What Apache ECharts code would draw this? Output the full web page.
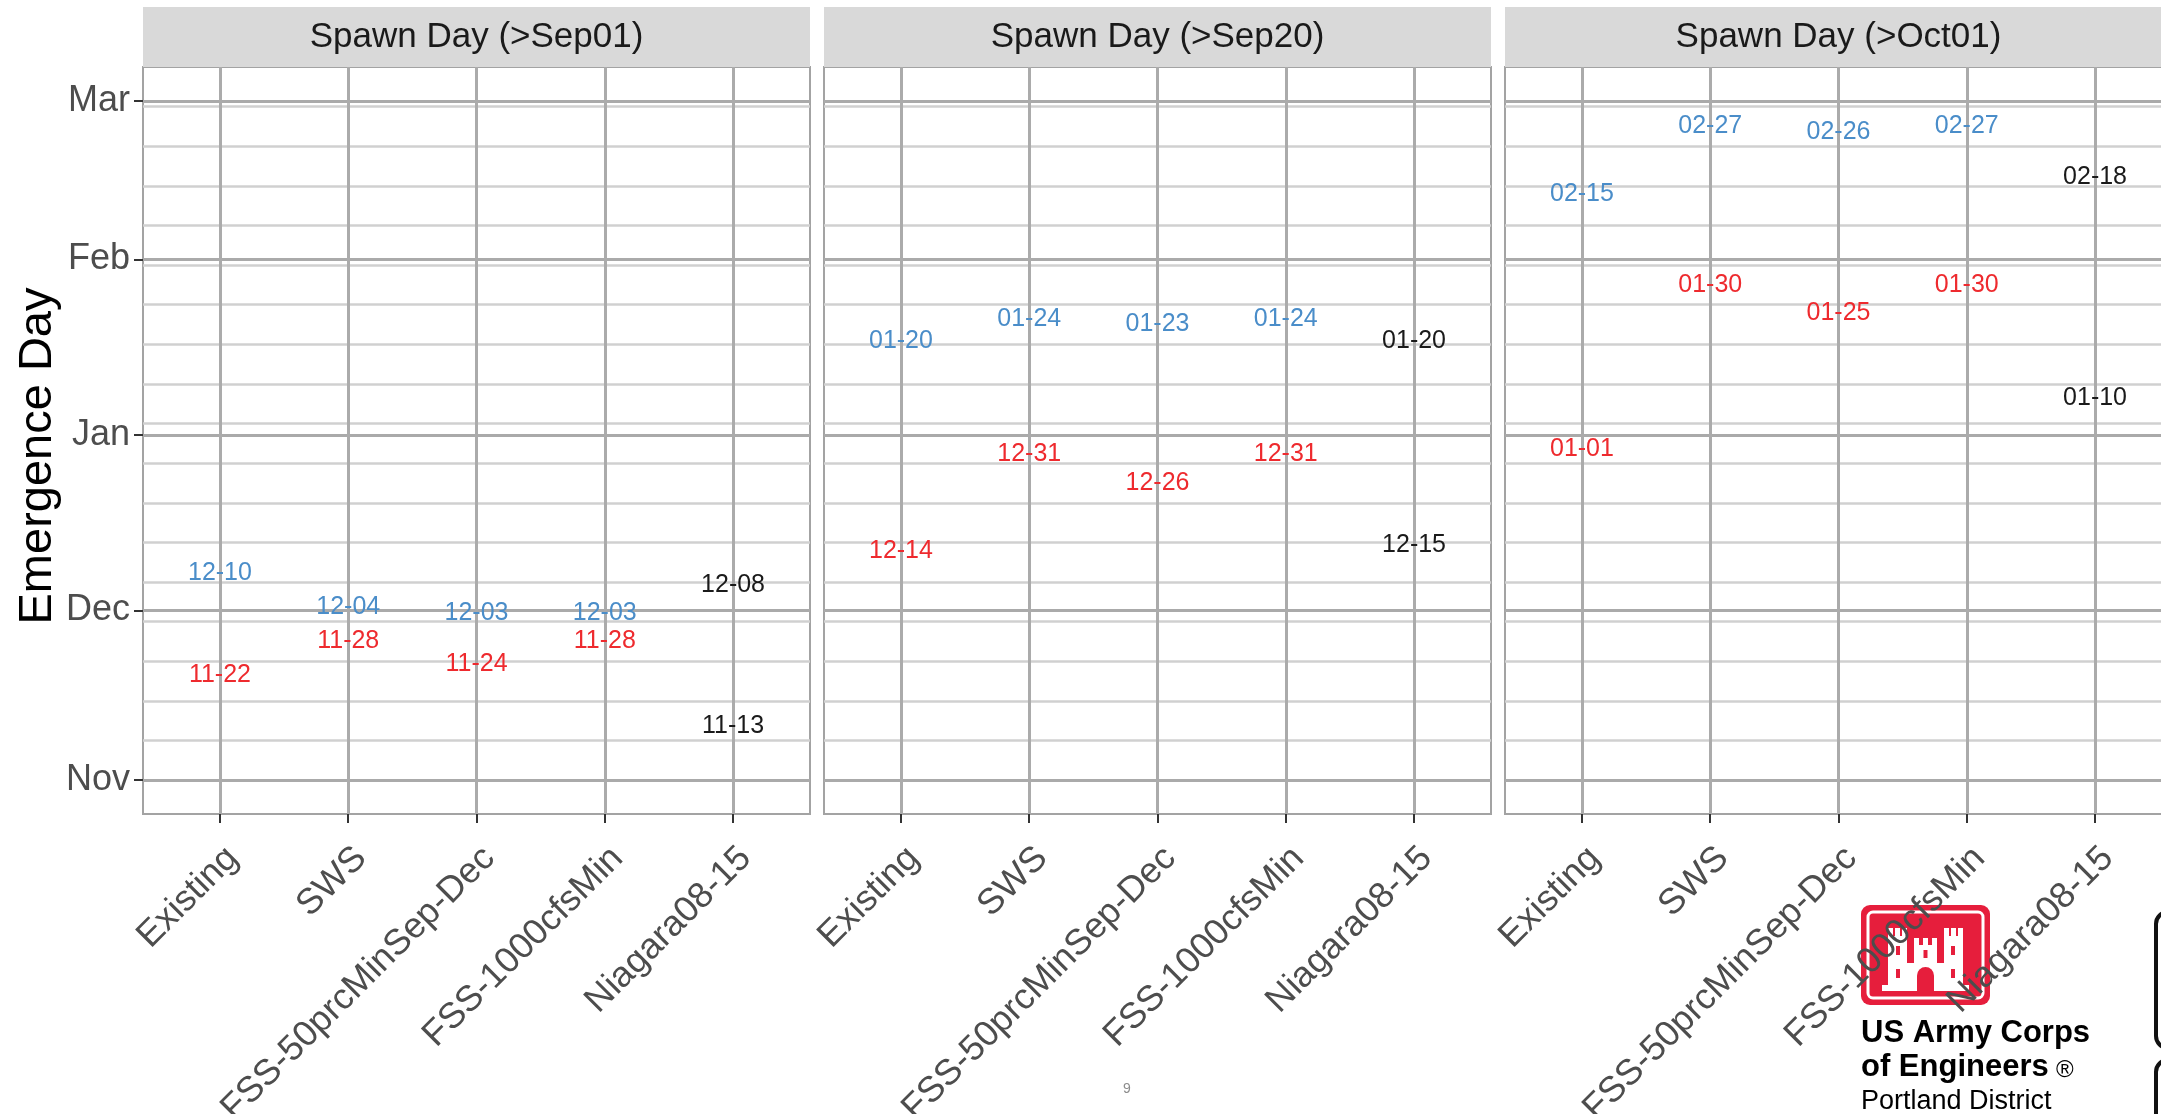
<!DOCTYPE html>
<html>
<head>
<meta charset="utf-8">
<title>Emergence Day by Spawn Day</title>
<script src="https://cdn.jsdelivr.net/npm/echarts@6/dist/echarts.min.js"></script>
<style>
  html, body { margin: 0; padding: 0; background: #ffffff; }
  #chart { width: 2161px; height: 1114px; }
</style>
</head>
<body>
<div id="chart"></div>
<script>
// Flow scenarios on the x axis of every facet
const scenarios = ['Existing', 'SWS', 'FSS-50prcMinSep-Dec', 'FSS-1000cfsMin', 'Niagara08-15'];
// Facet headings
const spawnPanels = ['Spawn Day (>Sep01)', 'Spawn Day (>Sep20)', 'Spawn Day (>Oct01)'];
// Month breaks of the emergence axis
const monthTicks = ['11-01', '12-01', '01-01', '02-01', '03-01'];
const monthNames = ['Nov', 'Dec', 'Jan', 'Feb', 'Mar'];

// Emergence dates (MM-DD): later and earlier estimate per scenario
const lateSep01  = ['12-10', '12-04', '12-03', '12-03', '12-08'];
const earlySep01 = ['11-22', '11-28', '11-24', '11-28', '11-13'];
const lateSep20  = ['01-20', '01-24', '01-23', '01-24', '01-20'];
const earlySep20 = ['12-14', '12-31', '12-26', '12-31', '12-15'];
const lateOct01  = ['02-15', '02-27', '02-26', '02-27', '02-18'];
const earlyOct01 = ['01-01', '01-30', '01-25', '01-30', '01-10'];

const panelLate  = [lateSep01, lateSep20, lateOct01];
const panelEarly = [earlySep01, earlySep20, earlyOct01];

// Days counted from 1 November of the emergence season
const DAY_MS = 86400000;
const seasonStart = Date.UTC(2018, 10, 1);
function dayOf(md) {
  const parts = md.split('-').map(Number);
  const year = parts[0] >= 9 ? 2018 : 2019;
  return (Date.UTC(year, parts[0] - 1, parts[1]) - seasonStart) / DAY_MS;
}

const FONT = '"Liberation Sans", Arial, Helvetica, sans-serif';
const COLOR_LATE = '#4a8dc9';
const COLOR_EARLY = '#ee2a2e';
const COLOR_OBS = '#1a1a1a';

const majorDays = monthTicks.map(dayOf);
const yMin = majorDays[0] - 6;
const yMax = majorDays[majorDays.length - 1] + 6;
const minorDays = [];
for (let d = majorDays[0] + 7; d < yMax; d += 7) minorDays.push(d);
const catIdx = scenarios.map((_, i) => i);

// facet geometry
const PANEL_LEFT = 143, PANEL_STEP = 681, PANEL_W = 667;
const PANEL_TOP = 67, PANEL_H = 747;
const STRIP_TOP = 7, STRIP_H = 60;

const grids = [], xAxes = [], yAxes = [], series = [], graphics = [];

spawnPanels.forEach((title, p) => {
  const left = PANEL_LEFT + p * PANEL_STEP;
  grids.push({
    left: left, top: PANEL_TOP, width: PANEL_W, height: PANEL_H,
    containLabel: false, outerBoundsMode: 'none',
    show: true, backgroundColor: '#ffffff', borderColor: '#a3a3a3', borderWidth: 2
  });
  xAxes.push({
    type: 'value', gridIndex: p, min: -0.6, max: scenarios.length - 0.4,
    axisLine: { show: false, onZero: false },
    splitLine: { show: false },
    axisTick: { show: true, length: 9, customValues: catIdx, lineStyle: { color: '#333333', width: 2 } },
    axisLabel: {
      show: true, customValues: catIdx, rotate: 45, margin: 26,
      align: 'right', verticalAlign: 'top', hideOverlap: false,
      fontFamily: FONT, fontSize: 36, color: '#4d4d4d',
      formatter: v => scenarios[Math.round(v)]
    }
  });
  yAxes.push({
    type: 'value', gridIndex: p, min: yMin, max: yMax,
    axisLine: { show: false, onZero: false },
    splitLine: { show: false },
    axisTick: { show: p === 0, length: 9, customValues: majorDays, lineStyle: { color: '#333333', width: 2 } },
    axisLabel: {
      show: p === 0, customValues: majorDays, margin: 13,
      fontFamily: FONT, fontSize: 36, color: '#4d4d4d',
      formatter: v => monthNames[majorDays.indexOf(Math.round(v))] || ''
    }
  });

  // panel grid: weekly minor lines, monthly major lines, one line per scenario
  const gridLines = []
    .concat(minorDays.map(v => ({ yAxis: v, lineStyle: { color: '#d0d0d0', width: 2.5, type: 'solid' } })))
    .concat(majorDays.map(v => ({ yAxis: v, lineStyle: { color: '#aaaaaa', width: 3, type: 'solid' } })))
    .concat(catIdx.map(v => ({ xAxis: v, lineStyle: { color: '#ababab', width: 3, type: 'solid' } })));

  const makeData = (dates, baseColor) => dates.map((md, i) => {
    const c = i === scenarios.length - 1 ? COLOR_OBS : baseColor;
    return { value: [i, dayOf(md)], text: md, label: { color: c } };
  });

  const labelStyle = {
    show: true, position: 'bottom', distance: 1, opacity: 1,
    fontFamily: FONT, fontSize: 25,
    formatter: prm => prm.data.text
  };

  series.push({
    name: 'later', type: 'scatter', xAxisIndex: p, yAxisIndex: p,
    symbol: 'circle', symbolSize: 1, itemStyle: { color: 'rgba(0,0,0,0)' },
    label: labelStyle, silent: true, z: 3,
    data: makeData(panelLate[p], COLOR_LATE),
    markLine: {
      silent: true, symbol: ['none', 'none'], label: { show: false },
      animation: false, z: 1, data: gridLines
    }
  });
  series.push({
    name: 'earlier', type: 'scatter', xAxisIndex: p, yAxisIndex: p,
    symbol: 'circle', symbolSize: 1, itemStyle: { color: 'rgba(0,0,0,0)' },
    label: labelStyle, silent: true, z: 3,
    data: makeData(panelEarly[p], COLOR_EARLY)
  });

  // facet strip
  graphics.push({
    type: 'rect', left: left, top: STRIP_TOP, z: 1,
    shape: { width: PANEL_W, height: STRIP_H },
    style: { fill: '#d9d9d9' }
  });
  graphics.push({
    type: 'text', z: 2,
    x: left + PANEL_W / 2, y: STRIP_TOP + STRIP_H / 2,
    style: { text: title, fontFamily: FONT, fontSize: 35, fill: '#1a1a1a', align: 'center', verticalAlign: 'middle' }
  });
});

// y axis title
graphics.push({
  type: 'text', x: 38, y: 456, rotation: Math.PI / 2, z: 2,
  style: { text: 'Emergence Day', fontFamily: FONT, fontSize: 47, fill: '#000000', align: 'center', verticalAlign: 'middle' }
});

// page number
graphics.push({
  type: 'text', x: 1127, y: 1089, z: 1,
  style: { text: '9', fontFamily: FONT, fontSize: 14, fill: '#8c8c8c', align: 'center', verticalAlign: 'middle' }
});

// district logo: red castle badge and wordmark
graphics.push({
  type: 'group', x: 1861, y: 905, z: -1,
  children: [
    { type: 'rect', shape: { x: 0, y: 0, width: 129, height: 100, r: 9 }, style: { fill: '#e61e3c' } },
    { type: 'rect', shape: { x: 7, y: 7, width: 115, height: 86, r: 5 }, style: { fill: 'none', stroke: '#ffffff', lineWidth: 3 } },
    // outer towers
    { type: 'rect', shape: { x: 27, y: 31, width: 19, height: 53 }, style: { fill: '#ffffff' } },
    { type: 'rect', shape: { x: 83, y: 31, width: 19, height: 53 }, style: { fill: '#ffffff' } },
    { type: 'rect', shape: { x: 27, y: 23, width: 5, height: 9 }, style: { fill: '#ffffff' } },
    { type: 'rect', shape: { x: 34, y: 23, width: 5, height: 9 }, style: { fill: '#ffffff' } },
    { type: 'rect', shape: { x: 41, y: 23, width: 5, height: 9 }, style: { fill: '#ffffff' } },
    { type: 'rect', shape: { x: 83, y: 23, width: 5, height: 9 }, style: { fill: '#ffffff' } },
    { type: 'rect', shape: { x: 90, y: 23, width: 5, height: 9 }, style: { fill: '#ffffff' } },
    { type: 'rect', shape: { x: 97, y: 23, width: 5, height: 9 }, style: { fill: '#ffffff' } },
    // centre tower
    { type: 'rect', shape: { x: 53, y: 40, width: 23, height: 44 }, style: { fill: '#ffffff' } },
    { type: 'rect', shape: { x: 53, y: 33, width: 5, height: 8 }, style: { fill: '#ffffff' } },
    { type: 'rect', shape: { x: 62, y: 33, width: 5, height: 8 }, style: { fill: '#ffffff' } },
    { type: 'rect', shape: { x: 71, y: 33, width: 5, height: 8 }, style: { fill: '#ffffff' } },
    // curtain wall and plinth
    { type: 'rect', shape: { x: 27, y: 58, width: 75, height: 26 }, style: { fill: '#ffffff' } },
    { type: 'rect', shape: { x: 21, y: 80, width: 87, height: 6 }, style: { fill: '#ffffff' } },
    // windows and gate
    { type: 'rect', shape: { x: 35, y: 41, width: 4, height: 9 }, style: { fill: '#e61e3c' } },
    { type: 'rect', shape: { x: 90, y: 41, width: 4, height: 9 }, style: { fill: '#e61e3c' } },
    { type: 'rect', shape: { x: 62.5, y: 45, width: 4, height: 8 }, style: { fill: '#e61e3c' } },
    { type: 'rect', shape: { x: 35, y: 64, width: 4, height: 9 }, style: { fill: '#e61e3c' } },
    { type: 'rect', shape: { x: 90, y: 64, width: 4, height: 9 }, style: { fill: '#e61e3c' } },
    { type: 'rect', shape: { x: 56, y: 62, width: 17, height: 24, r: [8.5, 8.5, 0, 0] }, style: { fill: '#e61e3c' } }
  ]
});
graphics.push({
  type: 'text', x: 1861, y: 1018, z: 1,
  style: { text: 'US Army Corps', fontFamily: FONT, fontWeight: 'bold', fontSize: 31, fill: '#000000', verticalAlign: 'top' }
});
graphics.push({
  type: 'text', x: 1861, y: 1052, z: 1,
  style: { text: 'of Engineers', fontFamily: FONT, fontWeight: 'bold', fontSize: 31, fill: '#000000', verticalAlign: 'top' }
});
graphics.push({
  type: 'text', x: 2056, y: 1058, z: 1,
  style: { text: '®', fontFamily: FONT, fontSize: 24, fill: '#000000', verticalAlign: 'top' }
});
graphics.push({
  type: 'text', x: 1861, y: 1088, z: 1,
  style: { text: 'Portland District', fontFamily: FONT, fontSize: 27, fill: '#000000', verticalAlign: 'top' }
});

// clipped key boxes at the right margin
graphics.push({
  type: 'rect', x: 2156, y: 912, z: 1,
  shape: { width: 40, height: 136, r: 12 },
  style: { fill: '#ffffff', stroke: '#111111', lineWidth: 4 }
});
graphics.push({
  type: 'rect', x: 2156, y: 1060, z: 1,
  shape: { width: 40, height: 90, r: 12 },
  style: { fill: '#ffffff', stroke: '#111111', lineWidth: 4 }
});

const chart = echarts.init(document.getElementById('chart'), null, { renderer: 'canvas' });
chart.setOption({
  animation: false,
  backgroundColor: '#ffffff',
  grid: grids,
  xAxis: xAxes,
  yAxis: yAxes,
  series: series,
  graphic: graphics
});
</script>
</body>
</html>
